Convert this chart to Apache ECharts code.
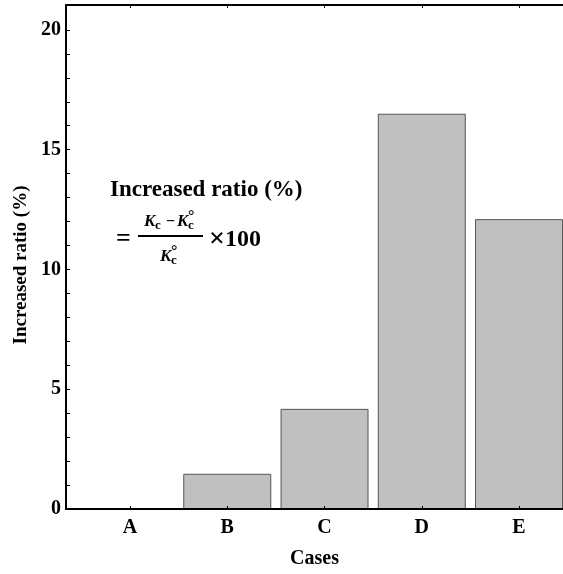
<!DOCTYPE html>
<html>
<head>
<meta charset="utf-8">
<script src="https://cdn.jsdelivr.net/npm/echarts@6/dist/echarts.min.js"></script>
<style>
    html, body { margin: 0; padding: 0; background: #fff; }
    #chart { width: 563px; height: 574px; }
</style>
</head>
<body>
<div id="chart"></div>
<script>
    // data
    var cases = ['A', 'B', 'C', 'D', 'E'];
    var ratios = [0, 1.47, 4.18, 16.5, 12.1];
    var yLabels = [0, 5, 10, 15, 20];
    var yTicks = [];
    for (var t = 0; t <= 20; t++) yTicks.push(t);
    var casePos = [1, 2, 3, 4, 5];

    var serif = '"Liberation Serif", "Times New Roman", serif';

    var chart = echarts.init(document.getElementById('chart'));

    var barData = cases.map(function (c, i) {
        return [casePos[i], ratios[i]];
    });

    function txt(x, y, text, font, align) {
        return {
            type: 'text', x: x, y: y, z: 100,
            style: {
                text: text, font: font, fill: '#000',
                align: align || 'left', verticalAlign: 'middle'
            }
        };
    }

    var option = {
        animation: false,
        grid: { left: 66, right: 0, top: 5, bottom: 64.5 },
        xAxis: [
            {
                type: 'value',
                min: 0.342,
                max: 5.452,
                z: 5,
                name: 'Cases',
                nameLocation: 'middle',
                nameGap: 40,
                nameTextStyle: { fontFamily: serif, fontWeight: 'bold', fontSize: 20, color: '#000' },
                splitLine: { show: false },
                axisLine: { onZero: false, lineStyle: { color: '#000', width: 2 } },
                axisTick: { inside: true, length: 3, customValues: casePos, lineStyle: { color: '#000' } },
                axisLabel: {
                    customValues: casePos,
                    margin: 9,
                    fontFamily: serif, fontWeight: 'bold', fontSize: 20, color: '#000',
                    formatter: function (v) { return cases[Math.round(v) - 1]; }
                }
            },
            {
                type: 'value',
                position: 'top',
                min: 0.342,
                max: 5.452,
                z: 5,
                splitLine: { show: false },
                axisLine: { onZero: false, lineStyle: { color: '#000', width: 2 } },
                axisTick: { inside: true, length: 3, customValues: casePos, lineStyle: { color: '#000' } },
                axisLabel: { show: false }
            }
        ],
        yAxis: {
            type: 'value',
            min: 0,
            max: 21.04,
            z: 5,
            name: 'Increased ratio (%)',
            nameLocation: 'middle',
            nameGap: 35,
            nameTextStyle: {
                fontFamily: serif, fontWeight: 'bold', fontSize: 19, color: '#000',
                padding: [0, 16, 0, 0]
            },
            splitLine: { show: false },
            axisLine: { lineStyle: { color: '#000', width: 2 } },
            axisTick: { inside: true, length: 4, customValues: yTicks, lineStyle: { color: '#000' } },
            axisLabel: {
                customValues: yLabels,
                margin: 5,
                fontFamily: serif, fontWeight: 'bold', fontSize: 20, color: '#000'
            }
        },
        series: [
            {
                type: 'bar',
                data: barData,
                barWidth: 88,
                itemStyle: { color: '#c0c0c0', borderColor: '#555', borderWidth: 1 }
            }
        ],
        graphic: [
            txt(110, 190, 'Increased ratio (%)', 'bold 23px ' + serif),
            txt(116, 239, '=', 'bold 26px ' + serif),
            // numerator  K_c - K_c°
            txt(144, 222, 'K', 'italic bold 17px ' + serif),
            txt(155, 226, 'c', 'bold 13px ' + serif),
            txt(166, 222, '\u2212', 'bold 16px ' + serif),
            txt(177, 222, 'K', 'italic bold 17px ' + serif),
            txt(188, 226, 'c', 'bold 13px ' + serif),
            txt(188, 217, '\u00b0', 'bold 16px ' + serif),
            {
                type: 'line', z: 100,
                shape: { x1: 138, y1: 236, x2: 203, y2: 236 },
                style: { stroke: '#000', lineWidth: 2 }
            },
            // denominator  K_c°
            txt(160, 257, 'K', 'italic bold 17px ' + serif),
            txt(171, 261, 'c', 'bold 13px ' + serif),
            txt(171, 252, '\u00b0', 'bold 16px ' + serif),
            txt(209, 240, '\u00d7', 'bold 28px ' + serif),
            txt(225, 240, '100', 'bold 24px ' + serif)
        ]
    };

    chart.setOption(option);
</script>
</body>
</html>
